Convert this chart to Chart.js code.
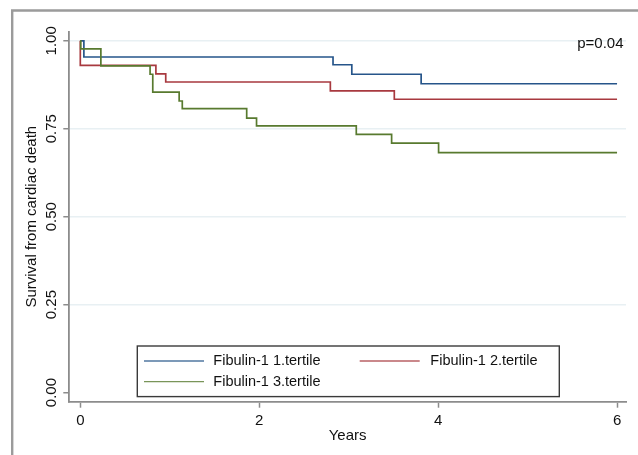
<!DOCTYPE html>
<html>
<head>
<meta charset="utf-8">
<script src="https://cdn.jsdelivr.net/npm/chart.js@4.4.1/dist/chart.umd.min.js"></script>
<style>
  html, body { margin: 0; padding: 0; background: #ffffff; }
  #wrap { width: 638px; height: 455px; position: relative; }
</style>
</head>
<body>
<div id="wrap"><canvas id="c" width="638" height="455"></canvas></div>
<script>
// ---- data ----
const seriesLabels = ["Fibulin-1 1.tertile", "Fibulin-1 2.tertile", "Fibulin-1 3.tertile"];

const tertile1Years    = [0, 0.04, 2.825, 3.035, 3.81, 6];
const tertile1Survival = [1, 0.954, 0.932, 0.905, 0.878, 0.878];

const tertile2Years    = [0, 0, 0.845, 0.955, 2.795, 3.51, 6];
const tertile2Survival = [1, 0.930, 0.906, 0.883, 0.858, 0.834, 0.834];

const tertile3Years    = [0, 0.005, 0.23, 0.78, 0.81, 1.105, 1.14, 1.86, 1.97, 3.085, 3.48, 4.005, 6];
const tertile3Survival = [1, 0.977, 0.929, 0.905, 0.854, 0.829, 0.807, 0.780, 0.758, 0.734, 0.709, 0.682, 0.682];

const xTickValues = [0, 2, 4, 6];
const yTickValues = [0, 0.25, 0.5, 0.75, 1];
const yTickLabels = ["0.00", "0.25", "0.50", "0.75", "1.00"];
const xTitle = "Years";
const yTitle = "Survival from cardiac death";
const pValueText = "p=0.04";

// ---- styling ----
const FONT = "'Liberation Sans', Arial, Helvetica, sans-serif";
const colors = ["#26558a", "#a8393f", "#587a2f"];
const axisGrey = "#8c8c8c";
const gridColor = "#e8f0f3";

function pts(xs, ys) { return xs.map((x, i) => ({ x: x, y: ys[i] })); }

const decor = {
  id: "decor",
  beforeDraw(chart) {
    const ctx = chart.ctx;
    ctx.save();
    ctx.fillStyle = "#ffffff";
    ctx.fillRect(0, 0, chart.width, chart.height);
    ctx.strokeStyle = "#9b9b9b";
    ctx.lineWidth = 2.4;
    ctx.beginPath();
    ctx.moveTo(12.2, chart.height);
    ctx.lineTo(12.2, 10.5);
    ctx.lineTo(chart.width, 10.5);
    ctx.stroke();
    ctx.restore();
  },
  afterDraw(chart) {
    const ctx = chart.ctx;
    const ys = chart.scales.y;
    ctx.save();
    // rotated y tick labels
    ctx.fillStyle = "#111";
    ctx.font = "15px " + FONT;
    ctx.textAlign = "center";
    ctx.textBaseline = "middle";
    yTickValues.forEach((v, i) => {
      const py = ys.getPixelForValue(v);
      ctx.save();
      ctx.translate(52, py);
      ctx.rotate(-Math.PI / 2);
      ctx.fillText(yTickLabels[i], 0, 0);
      ctx.restore();
    });
    // p-value
    ctx.textAlign = "right";
    ctx.fillText(pValueText, 623.5, 43.5);
    // legend
    const box = { x: 137.3, y: 346, w: 422, h: 50.6 };
    ctx.fillStyle = "#ffffff";
    ctx.fillRect(box.x, box.y, box.w, box.h);
    ctx.strokeStyle = "#3a3a3a";
    ctx.lineWidth = 1.4;
    ctx.strokeRect(box.x, box.y, box.w, box.h);
    const slots = [
      { lx: 144, ly: 361, tx: 213.3 },
      { lx: 359.7, ly: 361, tx: 430.3 },
      { lx: 144, ly: 381.7, tx: 213.3 }
    ];
    ctx.font = "14.5px " + FONT;
    ctx.textAlign = "left";
    ctx.textBaseline = "middle";
    chart.data.datasets.forEach((ds, i) => {
      const s = slots[i];
      ctx.strokeStyle = ds.borderColor;
      ctx.globalAlpha = 0.8;
      ctx.lineWidth = 1.3;
      ctx.beginPath();
      ctx.moveTo(s.lx, s.ly);
      ctx.lineTo(s.lx + 60, s.ly);
      ctx.stroke();
      ctx.globalAlpha = 1;
      ctx.fillStyle = "#111";
      ctx.fillText(ds.label, s.tx, s.ly);
    });
    ctx.restore();
  }
};

new Chart(document.getElementById("c"), {
  type: "line",
  data: {
    datasets: [
      { label: seriesLabels[0], data: pts(tertile1Years, tertile1Survival), borderColor: colors[0], order: 2 },
      { label: seriesLabels[1], data: pts(tertile2Years, tertile2Survival), borderColor: colors[1], order: 1 },
      { label: seriesLabels[2], data: pts(tertile3Years, tertile3Survival), borderColor: colors[2], order: 0 }
    ]
  },
  options: {
    responsive: false,
    animation: false,
    devicePixelRatio: 1,
    layout: { padding: { top: 31.7, right: 12, left: 0, bottom: 0 } },
    elements: {
      line: { stepped: "before", borderWidth: 1.7, fill: false, tension: 0 },
      point: { radius: 0, hitRadius: 0, hoverRadius: 0 }
    },
    plugins: { legend: { display: false }, tooltip: { enabled: false } },
    scales: {
      x: {
        type: "linear",
        min: -0.123,
        max: 6.10,
        afterBuildTicks: (s) => { s.ticks = xTickValues.map(v => ({ value: v })); },
        afterFit: (s) => { s.height = 53.3; },
        grid: { drawOnChartArea: false, drawTicks: true, tickLength: 6, tickColor: axisGrey, tickWidth: 1.5 },
        border: { display: true, color: axisGrey, width: 1.8 },
        ticks: { color: "#111", font: { family: FONT, size: 15 }, padding: 4, maxRotation: 0, autoSkip: false,
                 callback: (v) => String(v) },
        title: { display: true, text: xTitle, color: "#111", font: { family: FONT, size: 15 }, padding: { top: 0, bottom: 10 } }
      },
      y: {
        type: "linear",
        min: -0.026,
        max: 1.026,
        afterBuildTicks: (s) => { s.ticks = yTickValues.map(v => ({ value: v })); },
        afterFit: (s) => { s.width = 69.3; },
        grid: {
          drawTicks: true, tickLength: 6, tickWidth: 1.5, tickColor: axisGrey, lineWidth: 1.5,
          color: (c) => (c.tick && c.tick.value === 0 ? "rgba(0,0,0,0)" : gridColor)
        },
        border: { display: true, color: axisGrey, width: 1.8 },
        ticks: { display: false },
        title: { display: true, text: yTitle, color: "#111", font: { family: FONT, size: 15 }, padding: { top: 23, bottom: 0 } }
      }
    }
  },
  plugins: [decor]
});
</script>
</body>
</html>
